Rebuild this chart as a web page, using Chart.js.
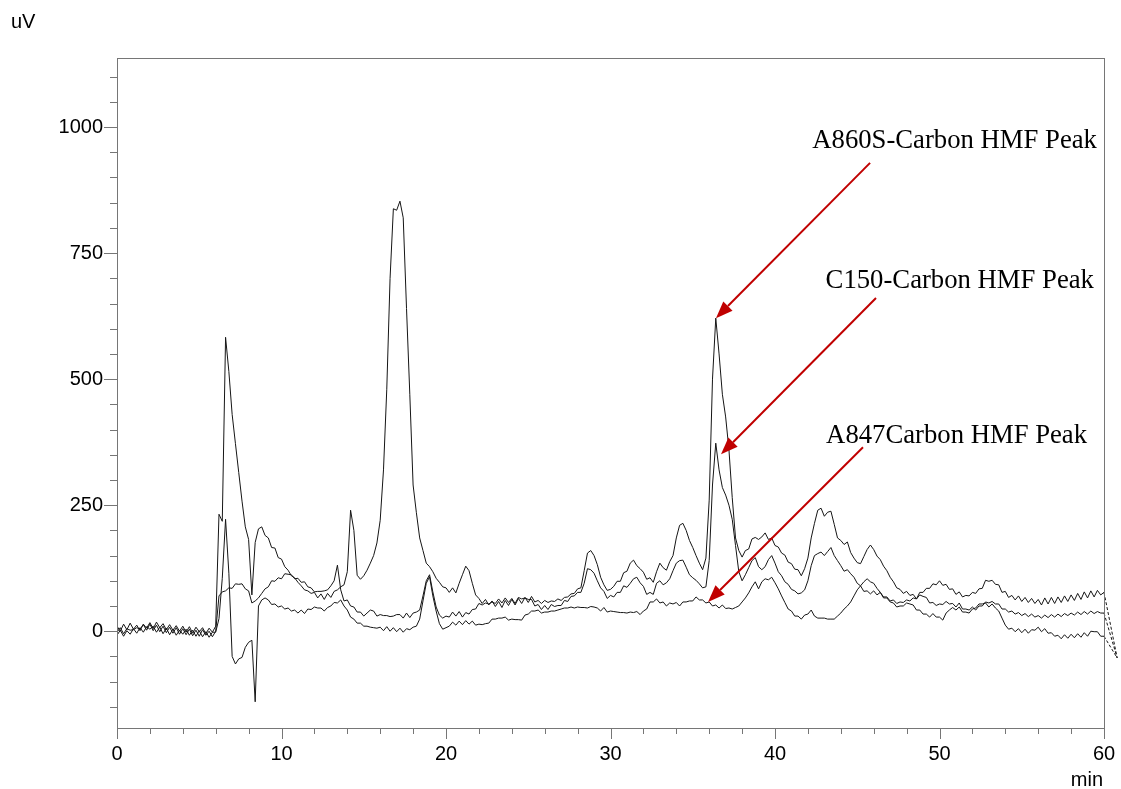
<!DOCTYPE html>
<html>
<head>
<meta charset="utf-8">
<title>HMF chromatogram</title>
<script src="https://cdn.jsdelivr.net/npm/chart.js@4.4.1/dist/chart.umd.min.js"></script>
<style>
  html, body { margin: 0; padding: 0; background: #fff; }
  #wrap { width: 1121px; height: 789px; }
</style>
</head>
<body>
<div id="wrap"><canvas id="chart" width="1121" height="789"></canvas></div>
<script>
'use strict';

// Detector traces, one sample every 0.2 min from 0 to 60 min (uV)
const SAMPLE_MIN = 0.2;

const a860s = [
  10, 0, 14, 3, 16, 4, 12, 1, 14, 6,
  17, 5, 18, 7, 15, 3, 13, 2, 11, 0,
  10, -2, 9, -4, 8, -1, 7, -5, 6, -2,
  10, 232, 218, 583, 515, 430, 372, 315, 258, 207,
  182, 72, 176, 203, 207, 190, 185, 166, 165, 146,
  143, 128, 121, 110, 106, 97, 90, 82, 80, 75,
  77, 66, 74, 63, 75, 67, 79, 82, 88, 92,
  118, 240, 200, 111, 103, 110, 121, 135, 150, 175,
  220, 320, 480, 700, 838, 835, 853, 820, 640, 470,
  290, 235, 185, 160, 135, 128, 118, 105, 97, 88,
  86, 77, 86, 76, 95, 112, 129, 120, 95, 72,
  65, 55, 63, 52, 60, 49, 59, 47, 61, 51,
  63, 52, 65, 55, 67, 57, 69, 58, 61, 55,
  61, 57, 60, 59, 64, 61, 67, 68, 74, 75,
  84, 86, 120, 155, 160, 150, 132, 107, 92, 81,
  83, 89, 99, 99, 116, 119, 135, 141, 130, 124,
  117, 103, 106, 97, 118, 135, 126, 121, 138, 150,
  185, 210, 214, 200, 180, 166, 150, 135, 122, 145,
  260, 500, 621, 550, 470, 425, 360, 265, 185, 160,
  147, 160, 163, 183, 186, 182, 187, 195, 182, 185,
  170, 167, 155, 151, 137, 134, 123, 122, 110, 124,
  145, 185, 214, 240, 244, 228, 236, 238, 212, 185,
  180, 172, 177, 156, 145, 136, 134, 148, 162, 171,
  162, 149, 142, 129, 120, 107, 98, 86, 83, 75,
  79, 71, 73, 64, 77, 77, 85, 85, 94, 92,
  100, 91, 93, 83, 84, 73, 78, 68, 71, 70,
  77, 75, 84, 85, 101, 99, 101, 93, 92, 77,
  79, 67, 71, 62, 70, 59, 67, 57, 65, 55,
  63, 52, 66, 54, 67, 55, 68, 57, 70, 59,
  72, 61, 75, 63, 78, 66, 80, 68, 81, 72,
  77
];

const c150 = [
  -2, 7, -5, 5, 2, 3, 7, 4, 13, 2,
  14, 1, 12, -1, 10, -3, 8, -4, 7, -6,
  5, -7, 4, -9, 2, -10, 3, -8, 0, -11,
  0, 70, 78, 80, 86, 85, 94, 93, 94, 84,
  80, 56, 60, 66, 75, 84, 88, 100, 99, 106,
  104, 114, 113, 112, 104, 105, 97, 98, 88, 86,
  78, 79, 79, 80, 82, 90, 100, 131, 82, 60,
  62, 50, 48, 38, 38, 30, 36, 42, 40, 30,
  33, 31, 31, 29, 30, 33, 33, 26, 36, 27,
  36, 38, 42, 70, 100, 112, 78, 48, 32, 26,
  30, 28, 38, 30, 39, 28, 37, 34, 43, 44,
  55, 52, 56, 54, 58, 55, 64, 56, 66, 57,
  65, 55, 67, 64, 66, 63, 63, 50, 53, 43,
  51, 43, 53, 49, 51, 51, 61, 59, 69, 70,
  77, 77, 95, 124, 122, 115, 100, 86, 79, 65,
  71, 68, 77, 77, 90, 87, 95, 104, 107, 96,
  89, 73, 77, 73, 95, 100, 92, 96, 104, 120,
  135, 140, 141, 127, 112, 106, 101, 94, 86, 88,
  140, 290, 373, 320, 285, 270, 250, 222, 170, 118,
  100, 112, 126, 140, 146, 128, 122, 128, 142, 150,
  135, 118, 110, 98, 93, 83, 80, 74, 76, 82,
  100, 130, 150, 154, 157, 150, 158, 166, 150, 140,
  130, 119, 122, 114, 107, 95, 90, 79, 80, 74,
  80, 72, 77, 68, 68, 60, 62, 55, 58, 57,
  62, 60, 66, 64, 72, 69, 67, 56, 57, 51,
  54, 53, 59, 54, 55, 48, 56, 44, 44, 42,
  48, 42, 50, 50, 58, 56, 59, 54, 54, 44,
  44, 38, 40, 34, 37, 31, 35, 29, 34, 28,
  31, 26, 32, 27, 33, 28, 34, 29, 35, 31,
  36, 32, 38, 33, 39, 34, 40, 35, 39, 36,
  36
];

const a847 = [
  -8, 2, -10, 1, -6, 5, -4, 7, -2, 9,
  4, 10, -2, 8, -5, 6, -7, 4, -8, 2,
  -6, 4, -8, 2, -10, 1, -11, -1, -12, -2,
  -2, 25, 105, 222, 115, -50, -65, -55, -52, -32,
  -22, -18, -140, 50, 62, 66, 62, 53, 54, 48,
  50, 44, 46, 40, 42, 36, 42, 35, 44, 43,
  48, 46, 46, 40, 47, 50, 57, 56, 62, 50,
  42, 28, 24, 16, 16, 10, 10, 8, 7, 6,
  8, 1, 9, 0, 7, -1, 6, -2, 5, 3,
  8, 10, 24, 60, 95, 108, 70, 40, 15, 4,
  7, 10, 18, 12, 20, 13, 21, 14, 20, 12,
  14, 13, 15, 16, 24, 24, 26, 26, 28, 22,
  24, 23, 23, 22, 32, 34, 40, 40, 42, 36,
  38, 38, 40, 40, 42, 44, 46, 46, 48, 46,
  48, 47, 47, 46, 49, 48, 46, 40, 47, 38,
  40, 39, 38, 37, 37, 36, 38, 37, 39, 33,
  40, 44, 58, 58, 64, 56, 58, 50, 56, 54,
  57, 50, 58, 58, 60, 60, 68, 62, 62, 56,
  58, 50, 52, 46, 52, 45, 46, 44, 47, 50,
  58, 66, 76, 88, 98, 84, 98, 104, 102, 107,
  96, 84, 70, 57, 44, 40, 30, 30, 24, 32,
  34, 42, 30, 26, 26, 26, 24, 24, 24, 30,
  36, 44, 50, 58, 70, 82, 90, 98, 104, 98,
  95, 85, 77, 66, 66, 58, 56, 48, 50, 50,
  56, 54, 52, 42, 42, 34, 34, 28, 35, 28,
  28, 22, 36, 42, 47, 42, 48, 38, 38, 36,
  44, 46, 54, 54, 56, 48, 54, 46, 40, 26,
  12, 4, 6, -1, 5, -3, 4, -4, 3, 2,
  8, -1, 5, -4, -3, -10, -8, -15, -7, -14,
  -6, -13, -5, -12, -3, -10, 0, -1, -1, -10,
  -10
];

// all three runs fall off just past the end of the window (drawn dashed)
const TAIL_MIN = 60.8;
const TAIL_UV = -53;

const xLabelTicks = [0, 10, 20, 30, 40, 50, 60];
const yLabelTicks = [0, 250, 500, 750, 1000];
const X_MINOR = 2;
const Y_MINOR = 50;

// peak callouts: text anchored at its right end, arrow from -> tip (minutes, uV)
const callouts = [
  { text: 'A860S-Carbon HMF Peak', at: [59.57, 958], from: [45.78, 929], tip: [36.41, 621] },
  { text: 'C150-Carbon HMF Peak',  at: [59.39, 681], from: [46.14, 661], tip: [36.72, 351] },
  { text: 'A847Carbon HMF Peak',   at: [58.97, 373], from: [45.35, 365], tip: [35.93, 58] },
];

function toPoints(values) {
  return values.map((v, i) => ({ x: Math.round(i * SAMPLE_MIN * 10) / 10, y: v }));
}

function trace(label, values) {
  return {
    label,
    data: toPoints(values),
    borderColor: '#151515',
    borderWidth: 1,
    pointRadius: 0,
    tension: 0,
  };
}

const SANS = '"Liberation Sans", Arial, sans-serif';
const SERIF = '"Liberation Serif", "Times New Roman", serif';

// frame, tick marks, axis unit labels and the dashed run-out past 60 min
const framePlugin = {
  id: 'frame',
  afterDatasetsDraw(chart) {
    const { ctx, scales: { x, y } } = chart;
    ctx.save();
    ctx.strokeStyle = '#151515';
    ctx.lineWidth = 1;
    ctx.setLineDash([3, 2]);
    ctx.beginPath();
    for (const ds of chart.data.datasets) {
      const last = ds.data[ds.data.length - 1];
      ctx.moveTo(x.getPixelForValue(last.x), y.getPixelForValue(last.y));
      ctx.lineTo(x.getPixelForValue(TAIL_MIN), y.getPixelForValue(TAIL_UV));
    }
    ctx.stroke();
    ctx.restore();
  },
  afterDraw(chart) {
    const { ctx, chartArea: a, scales: { x, y } } = chart;
    ctx.save();
    ctx.strokeStyle = '#767676';
    ctx.lineWidth = 1;
    ctx.strokeRect(a.left + 0.5, a.top + 0.5, a.right - a.left, a.bottom - a.top);

    ctx.beginPath();
    for (let v = x.min; v <= x.max; v += X_MINOR) {
      const px = Math.round(x.getPixelForValue(v)) + 0.5;
      const len = v % 10 === 0 ? 11 : 6;
      ctx.moveTo(px, a.bottom);
      ctx.lineTo(px, a.bottom + len);
    }
    for (let v = Math.ceil(y.min / Y_MINOR) * Y_MINOR; v <= y.max; v += Y_MINOR) {
      const py = Math.round(y.getPixelForValue(v)) + 0.5;
      const len = v % 250 === 0 ? 13 : 7;
      ctx.moveTo(a.left - len, py);
      ctx.lineTo(a.left, py);
    }
    ctx.stroke();

    ctx.fillStyle = '#000';
    ctx.font = '20px ' + SANS;
    ctx.textAlign = 'left';
    ctx.textBaseline = 'alphabetic';
    ctx.fillText('uV', 11, 28);
    ctx.textAlign = 'right';
    ctx.fillText('min', 1103, 786);
    ctx.restore();
  },
};

// red arrows pointing at the HMF peaks, with their captions
const calloutPlugin = {
  id: 'callouts',
  afterDatasetsDraw(chart) {
    const { ctx, scales: { x, y } } = chart;
    ctx.save();
    ctx.font = '26.7px ' + SERIF;
    ctx.textAlign = 'right';
    ctx.textBaseline = 'alphabetic';
    for (const c of callouts) {
      ctx.fillStyle = '#000';
      ctx.fillText(c.text, x.getPixelForValue(c.at[0]), y.getPixelForValue(c.at[1]));

      const x0 = x.getPixelForValue(c.from[0]), y0 = y.getPixelForValue(c.from[1]);
      const x1 = x.getPixelForValue(c.tip[0]), y1 = y.getPixelForValue(c.tip[1]);
      const ang = Math.atan2(y1 - y0, x1 - x0);
      const head = 17, half = 6.5;
      const bx = x1 - head * Math.cos(ang), by = y1 - head * Math.sin(ang);

      ctx.strokeStyle = '#c00000';
      ctx.fillStyle = '#c00000';
      ctx.lineWidth = 2;
      ctx.beginPath();
      ctx.moveTo(x0, y0);
      ctx.lineTo(bx, by);
      ctx.stroke();

      ctx.beginPath();
      ctx.moveTo(x1, y1);
      ctx.lineTo(bx + half * Math.sin(ang), by - half * Math.cos(ang));
      ctx.lineTo(bx - half * Math.sin(ang), by + half * Math.cos(ang));
      ctx.closePath();
      ctx.fill();
    }
    ctx.restore();
  },
};

new Chart(document.getElementById('chart'), {
  type: 'line',
  data: {
    datasets: [
      trace('A860S-Carbon', a860s),
      trace('C150-Carbon', c150),
      trace('A847Carbon', a847),
    ],
  },
  options: {
    responsive: false,
    devicePixelRatio: 1,
    animation: false,
    layout: { padding: { top: 58, right: 17, left: 0, bottom: 0 } },
    plugins: {
      legend: { display: false },
      tooltip: { enabled: false },
    },
    scales: {
      x: {
        type: 'linear',
        min: 0,
        max: 60,
        afterBuildTicks: s => { s.ticks = xLabelTicks.map(v => ({ value: v })); },
        afterFit: s => { s.height = 61; s.paddingLeft = 0; s.paddingRight = 0; },
        grid: { display: false, drawTicks: false },
        border: { display: false },
        ticks: {
          color: '#000',
          padding: 14,
          maxRotation: 0,
          autoSkip: false,
          font: { family: SANS, size: 20 },
          callback: v => String(v),
        },
      },
      y: {
        type: 'linear',
        min: -192,
        max: 1137,
        afterBuildTicks: s => { s.ticks = yLabelTicks.map(v => ({ value: v })); },
        afterFit: s => { s.width = 117; s.paddingTop = 0; s.paddingBottom = 0; },
        grid: { display: false, drawTicks: false },
        border: { display: false },
        ticks: {
          color: '#000',
          padding: 14,
          autoSkip: false,
          font: { family: SANS, size: 20 },
          callback: v => String(v),
        },
      },
    },
  },
  plugins: [framePlugin, calloutPlugin],
});
</script>
</body>
</html>
